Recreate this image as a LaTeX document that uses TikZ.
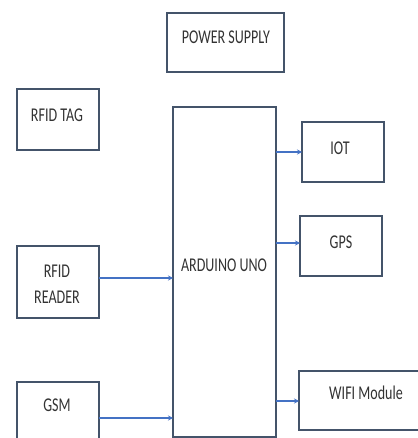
\documentclass[tikz,border=0pt]{standalone}
\usepackage{fontspec}
\newfontfamily\cf[FakeStretch=0.72]{Carlito}
\usetikzlibrary{arrows.meta}
\definecolor{boxc}{HTML}{44546A}
\definecolor{arrc}{HTML}{4472C4}
\begin{document}
\begin{tikzpicture}[x=1pt,y=-1pt,
  blk/.style={draw=boxc,line width=1.8pt,fill=white},
  lbl/.style={font=\cf\fontsize{19.5}{21}\selectfont,text=black!80,inner sep=0pt,align=center},
  conn/.style={draw=arrc,line width=1.4pt,-{Stealth[length=5pt,width=5pt]}}]
\useasboundingbox[fill=white] (0,0) rectangle (417,438);
% boxes
\draw[blk] (167,13) rectangle (284,72);
\draw[blk] (17,89) rectangle (99,150);
\draw[blk] (173,107) rectangle (276,437);
\draw[blk] (17,246) rectangle (99,318);
\draw[blk] (17,382) rectangle (99,445);
\draw[blk] (302,122) rectangle (384,182);
\draw[blk] (300,216) rectangle (382,276);
\draw[blk] (299,371) rectangle (425,430);
% labels
\node[lbl] (ps) at (226,37) {POWER SUPPLY};
\node[lbl] (tag) at (57,115) {RFID TAG};
\node[lbl] (rd) at (57,284) {RFID\\[5pt]READER};
\node[lbl] (gsm) at (57,405) {GSM};
\node[lbl] (ard) at (224,265) {ARDUINO UNO};
\node[lbl] (iot) at (340,148) {IOT};
\node[lbl] (gps) at (341,242) {GPS};
\node[lbl] (wifi) at (366,393) {WIFI Module};
% connector anchors
\coordinate (rdo) at (99,278);
\coordinate (ardi1) at (173,278);
\coordinate (gsmo) at (99,418);
\coordinate (ardi2) at (173,418);
\coordinate (ardo1) at (276,152);
\coordinate (iotin) at (302,152);
\coordinate (ardo2) at (276,243);
\coordinate (gpsin) at (300,243);
\coordinate (ardo3) at (276,401);
\coordinate (wifiin) at (299,401);
\draw[conn] (rdo) -- (ardi1);
\draw[conn] (gsmo) -- (ardi2);
\draw[conn] (ardo1) -- (iotin);
\draw[conn] (ardo2) -- (gpsin);
\draw[conn] (ardo3) -- (wifiin);
\end{tikzpicture}
\end{document}
